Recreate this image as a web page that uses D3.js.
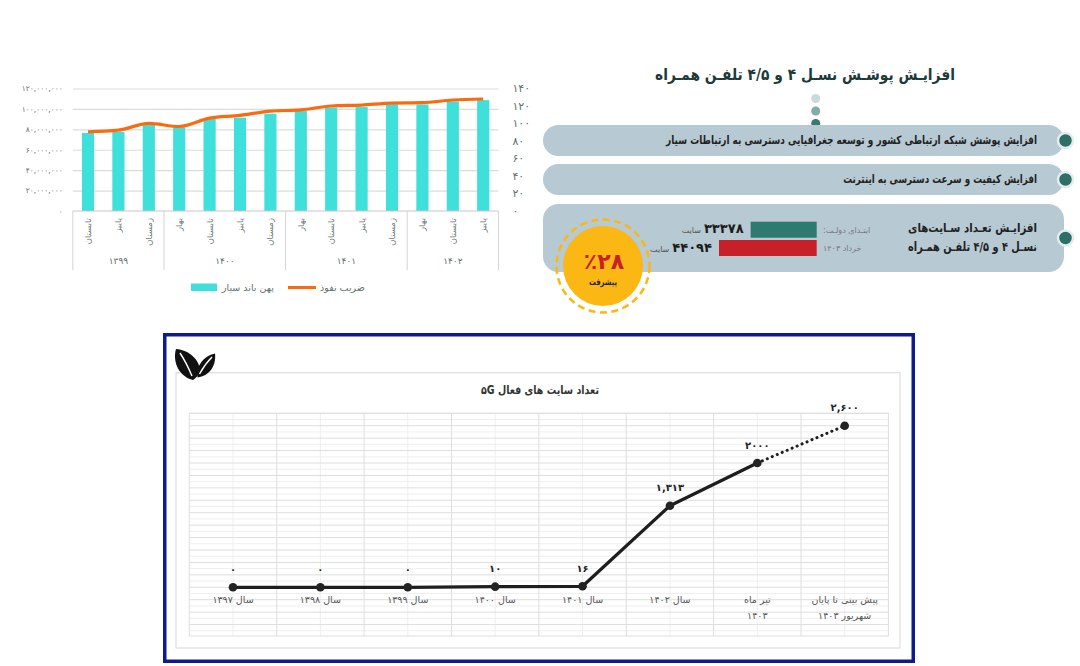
<!DOCTYPE html>
<html>
<head>
<meta charset="utf-8">
<script src="https://cdn.jsdelivr.net/npm/d3@7"></script>
<style>
  body { margin: 0; background: #fff; }
  svg { display: block; font-family: "DejaVu Sans", sans-serif; }
</style>
</head>
<body>
<div id="chart"></div>
<script>
// ---- data: mobile broadband (top left)
const seasons = ['تابستان', 'پاییز', 'زمستان', 'بهار', 'تابستان', 'پاییز', 'زمستان',
  'بهار', 'تابستان', 'پاییز', 'زمستان', 'بهار', 'تابستان', 'پاییز']
const years = ['۱۳۹۹', '۱۴۰۰', '۱۴۰۱', '۱۴۰۲']
const yearSizes = [3, 4, 4, 3]
const broadband = [76.4e6, 77.4e6, 84.2e6, 82e6, 90.4e6, 91.4e6, 95.3e6, 97.9e6,
  101.2e6, 101.8e6, 104.4e6, 104.4e6, 107.3e6, 108.6e6]
const penetration = [90, 91.8, 99.5, 96, 105.6, 108.7, 113.6, 115, 119.4, 120.5, 122.8, 123.2, 126.3, 127.4]
const leftTicks = [0, 20e6, 40e6, 60e6, 80e6, 100e6, 120e6]
const rightTicks = [0, 20, 40, 60, 80, 100, 120, 140]
const legendNames = ['پهن باند سیار', 'ضریب نفوذ']

// ---- data: 4G / 4.5G infographic (top right)
const infoTitle = 'افزایـش پوشـش نسـل ۴ و ۴/۵ تلفـن همـراه'
const pillTexts = [
  ['افزایش پوشش شبکه ارتباطی کشور و توسعه جغرافیایی دسترسی به ارتباطات سیار'],
  ['افزایش کیفیت و سرعت دسترسی به اینترنت'],
  ['افزایـش تعـداد سـایت‌های', 'نسـل ۴ و ۴/۵ تلفـن همـراه']
]
const pillTextWidths = [[371], [194], [129, 129]]
const siteDates = ['ابتـدای دولـت:\u200F', 'خرداد ۱۴۰۳']
const siteCounts = [33378, 44094]
const siteCountLabels = ['۳۳۳۷۸', '۴۴۰۹۴']
const growthLabel = '٪۲۸'

// ---- data: 5G sites (bottom)
const cats5g = [['سال ۱۳۹۷'], ['سال ۱۳۹۸'], ['سال ۱۳۹۹'], ['سال ۱۴۰۰'], ['سال ۱۴۰۱'],
  ['سال ۱۴۰۲'], ['تیر ماه', '۱۴۰۳'], ['پیش بینی تا پایان', 'شهریور ۱۴۰۳']]
const sites5g = [0, 0, 0, 10, 16, 1313, 2000, 2600]
const sites5gLabels = ['۰', '۰', '۰', '۱۰', '۱۶', '۱,۳۱۳', '۲۰۰۰', '۲,۶۰۰']

const fa = s => String(s).replace(/\d/g, d => '۰۱۲۳۴۵۶۷۸۹'[d])

const svg = d3.select('#chart').append('svg')
  .attr('width', 1080)
  .attr('height', 666)

// squeeze a text horizontally so it spans `width` px (DejaVu is wider than the original face)
function fitText(parent, x, y, str, width, anchor, attrs) {
  const g = parent.append('g')
  const t = g.append('text')
    .attr('text-anchor', anchor)
    .attr('dominant-baseline', 'central')
    .text(str)
  Object.entries(attrs).forEach(([k, v]) => t.attr(k, v))
  const s = width / t.node().getComputedTextLength()
  g.attr('transform', `translate(${x},${y}) scale(${s},1)`)
  return t
}

// ================= chart 1: bars + line
const x1 = d3.scaleBand()
  .domain(d3.range(seasons.length))
  .range([72.8, 498.4])
  .paddingInner(0.6)
  .paddingOuter(0.3)
const yL = d3.scaleLinear().domain([0, 120e6]).range([211, 88.5])
const yR = d3.scaleLinear().domain([0, 140]).range([210.5, 88])

const c1 = svg.append('g')

// grid
c1.append('g')
  .attr('transform', 'translate(72.8,0)')
  .call(d3.axisLeft(yL).tickValues(leftTicks.slice(1)).tickSize(-(498.4 - 72.8)).tickFormat(''))
  .call(g => g.select('.domain').remove())
  .call(g => g.selectAll('line').attr('stroke', '#dcdcdc').attr('stroke-width', 1.2))

// left labels
c1.append('g')
  .attr('transform', 'translate(72.8,0)')
  .call(d3.axisLeft(yL).tickValues(leftTicks).tickSize(0).tickPadding(10)
    .tickFormat(d => fa(d3.format(',')(d))))
  .call(g => g.select('.domain').remove())
  .call(g => g.selectAll('text').attr('font-size', 7.5).attr('fill', '#5f6f6f').attr('font-family', 'DejaVu Sans'))

// right labels
c1.append('g')
  .attr('transform', 'translate(498.4,0)')
  .call(d3.axisRight(yR).tickValues(rightTicks).tickSize(0).tickPadding(14).tickFormat(fa))
  .call(g => g.select('.domain').remove())
  .call(g => g.selectAll('text').attr('font-size', 11).attr('fill', '#5f6f6f').attr('font-family', 'DejaVu Sans'))

c1.selectAll('rect.bar')
  .data(broadband)
  .join('rect')
  .attr('class', 'bar')
  .attr('x', (d, i) => x1(i))
  .attr('width', x1.bandwidth())
  .attr('y', d => yL(d))
  .attr('height', d => yL(0) - yL(d))
  .attr('fill', '#3fe0db')

c1.append('path')
  .datum(penetration)
  .attr('d', d3.line()
    .x((d, i) => x1(i) + x1.bandwidth() / 2)
    .y(d => yR(d))
    .curve(d3.curveMonotoneX))
  .attr('fill', 'none')
  .attr('stroke', '#fa6a0e')
  .attr('stroke-width', 3.2)
  .attr('stroke-linejoin', 'round')

// category axis
c1.append('line')
  .attr('x1', 72.8).attr('x2', 498.4)
  .attr('y1', yL(0)).attr('y2', yL(0))
  .attr('stroke', '#c8c8c8')

const bounds = [0, ...d3.cumsum(yearSizes)]
c1.selectAll('line.sep')
  .data(bounds)
  .join('line')
  .attr('class', 'sep')
  .attr('x1', d => 72.8 + d * x1.step())
  .attr('x2', d => 72.8 + d * x1.step())
  .attr('y1', yL(0)).attr('y2', 270)
  .attr('stroke', '#d4d4d4')

c1.selectAll('text.season')
  .data(seasons)
  .join('text')
  .attr('class', 'season')
  .attr('transform', (d, i) => `translate(${x1(i) + x1.bandwidth() / 2},218) rotate(-90)`)
  .attr('text-anchor', 'end')
  .attr('dominant-baseline', 'central')
  .attr('font-size', 8.5)
  .attr('fill', '#6f7c7c')
  .text(d => d)

c1.selectAll('text.year')
  .data(years)
  .join('text')
  .attr('class', 'year')
  .attr('x', (d, i) => 72.8 + (bounds[i] + bounds[i + 1]) / 2 * x1.step())
  .attr('y', 261)
  .attr('text-anchor', 'middle')
  .attr('dominant-baseline', 'central')
  .attr('font-size', 9)
  .attr('fill', '#5f6f6f')
  .text(d => d)

// legend
const lg = c1.append('g')
lg.append('rect').attr('x', 191).attr('y', 283.5).attr('width', 26).attr('height', 7.5).attr('fill', '#3fe0db')
lg.append('text').attr('x', 222).attr('y', 287.5).attr('dominant-baseline', 'central')
  .attr('font-size', 9.5).attr('fill', '#5f6f6f').text(legendNames[0])
lg.append('line').attr('x1', 288).attr('x2', 316).attr('y1', 287.5).attr('y2', 287.5)
  .attr('stroke', '#fa6a0e').attr('stroke-width', 3)
lg.append('text').attr('x', 320).attr('y', 287.5).attr('dominant-baseline', 'central')
  .attr('font-size', 9.5).attr('fill', '#5f6f6f').text(legendNames[1])

// ================= infographic
const c2 = svg.append('g')
fitText(c2, 805, 75, infoTitle, 300, 'middle',
  { 'font-size': 16, 'font-weight': 'bold', fill: '#1d3a3a' })

c2.selectAll('circle.dot')
  .data(['#c7dbda', '#84aba7', '#3b7870'])
  .join('circle')
  .attr('class', 'dot')
  .attr('cx', 815.7)
  .attr('cy', (d, i) => 98.5 + i * 12.5)
  .attr('r', 4.5)
  .attr('fill', d => d)

const pills = [{ y: 125, h: 31 }, { y: 164, h: 31 }, { y: 204, h: 68 }]
pills.forEach((p, i) => {
  c2.append('rect')
    .attr('x', 543).attr('y', p.y)
    .attr('width', 521).attr('height', p.h)
    .attr('rx', 15.5)
    .attr('fill', '#b7c9d3')
  c2.append('circle')
    .attr('cx', 1065.5).attr('cy', p.y + p.h / 2)
    .attr('r', 7.5)
    .attr('fill', '#2e6e66')
    .attr('stroke', '#e4ecef')
    .attr('stroke-width', 2.5)
  const lines = pillTexts[i]
  lines.forEach((t, j) => {
    fitText(c2, 1037, p.y + p.h / 2 - 0.5 + (j - (lines.length - 1) / 2) * 19.5,
      t, pillTextWidths[i][j], 'end',
      { 'font-size': lines.length > 1 ? 12.5 : 11.5, 'font-weight': 'bold', fill: '#222' })
  })
})

// mini bars
const xs = d3.scaleLinear().domain([11000, 44094]).range([0, 97.7])
const barRight = 816.7
const rowY = [221.7, 240]
siteCounts.forEach((v, i) => {
  c2.append('rect')
    .attr('x', barRight - xs(v)).attr('y', rowY[i])
    .attr('width', xs(v)).attr('height', 16)
    .attr('fill', i === 0 ? '#2f7a70' : '#c62128')
  c2.append('text')
    .attr('x', 823).attr('y', rowY[i] + 8.5)
    .attr('dominant-baseline', 'central')
    .attr('font-size', 8)
    .attr('fill', '#777')
    .text(siteDates[i])
  const num = c2.append('text')
    .attr('x', barRight - xs(v) - 7).attr('y', rowY[i] + 7)
    .attr('text-anchor', 'end')
    .attr('dominant-baseline', 'central')
    .attr('font-size', 13)
    .attr('font-weight', 'bold')
    .attr('fill', '#1b1b1b')
    .text(siteCountLabels[i])
  const nw = num.node().getComputedTextLength()
  c2.append('text')
    .attr('x', barRight - xs(v) - 7 - nw - 3).attr('y', rowY[i] + 9)
    .attr('text-anchor', 'end')
    .attr('dominant-baseline', 'central')
    .attr('font-size', 8)
    .attr('fill', '#555')
    .text('سایت')
})

// growth badge
c2.append('circle').attr('cx', 603).attr('cy', 266).attr('r', 46.5)
  .attr('fill', 'none').attr('stroke', '#fbb714').attr('stroke-width', 2.5)
  .attr('stroke-dasharray', '7 4.5')
c2.append('circle').attr('cx', 603).attr('cy', 266).attr('r', 40).attr('fill', '#fbb714')
c2.append('text').attr('x', 604).attr('y', 261)
  .attr('text-anchor', 'middle').attr('dominant-baseline', 'central')
  .attr('font-size', 22).attr('font-weight', 'bold').attr('fill', '#c62128')
  .text(growthLabel)
fitText(c2, 603, 282, 'پیشرفت', 28, 'middle',
  { 'font-size': 9, 'font-weight': 'bold', fill: '#222' })

// ================= chart 3: 5G sites
const c3 = svg.append('g')
c3.append('rect')
  .attr('x', 164.75).attr('y', 334.75)
  .attr('width', 748.5).attr('height', 326.5)
  .attr('fill', '#fff')
  .attr('stroke', '#0d1b8e')
  .attr('stroke-width', 3.5)
c3.append('rect')
  .attr('x', 176).attr('y', 372.7)
  .attr('width', 724).attr('height', 275.3)
  .attr('fill', 'none')
  .attr('stroke', '#e0e0e0')
  .attr('stroke-width', 1.3)

// logo
const logo = c3.append('g')
logo.append('path')
  .attr('d', 'M193,380 C180,377 172,363 176,349 C189,350 200,360 199.5,370 C199,375 196,378 193,380 Z')
  .attr('fill', '#111')
logo.append('path')
  .attr('d', 'M197.5,377.5 C196,366 203,356 215,353.5 C216.5,366 209,376 197.5,377.5 Z')
  .attr('fill', '#111')
logo.append('path').attr('d', 'M192,376 Q186,362 180,353').attr('stroke', '#fff').attr('stroke-width', 1.4).attr('fill', 'none')
logo.append('path').attr('d', 'M199.5,374 Q205,364 212,357').attr('stroke', '#fff').attr('stroke-width', 1.4).attr('fill', 'none')

fitText(c3, 540, 390, 'تعداد سایت های فعال ۵G', 118, 'middle',
  { 'font-size': 11.5, 'font-weight': 'bold', fill: '#333', direction: 'rtl' })

const x3 = d3.scaleBand().domain(d3.range(cats5g.length)).range([189.3, 888.4])
const y3 = d3.scaleLinear().domain([-800, 2800]).range([637, 413.3])
const plotTop = 413.3, plotBottom = 636

// minor grid
c3.append('g')
  .selectAll('line')
  .data(d3.range(-700, 2800, 200))
  .join('line')
  .attr('x1', 189.3).attr('x2', 888.4)
  .attr('y1', d => y3(d)).attr('y2', d => y3(d))
  .attr('stroke', '#efefef')
c3.append('g')
  .selectAll('line')
  .data(d3.range(cats5g.length))
  .join('line')
  .attr('x1', d => x3(d) + x3.bandwidth() / 2).attr('x2', d => x3(d) + x3.bandwidth() / 2)
  .attr('y1', plotTop).attr('y2', plotBottom)
  .attr('stroke', '#efefef')
// major grid
c3.append('g')
  .selectAll('line')
  .data(d3.range(-600, 2801, 200))
  .join('line')
  .attr('x1', 189.3).attr('x2', 888.4)
  .attr('y1', d => y3(d)).attr('y2', d => y3(d))
  .attr('stroke', '#dedede')
c3.append('g')
  .selectAll('line')
  .data(d3.range(1, cats5g.length))
  .join('line')
  .attr('x1', d => x3(d)).attr('x2', d => x3(d))
  .attr('y1', plotTop).attr('y2', plotBottom)
  .attr('stroke', '#dedede')
c3.append('rect')
  .attr('x', 189.3).attr('y', plotTop)
  .attr('width', 888.4 - 189.3).attr('height', plotBottom - plotTop)
  .attr('fill', 'none').attr('stroke', '#dedede')

const cx3 = i => x3(i) + x3.bandwidth() / 2
const line3 = d3.line().x(d => cx3(d)).y(d => y3(sites5g[d]))
c3.append('path')
  .attr('d', line3(d3.range(0, 7)))
  .attr('fill', 'none')
  .attr('stroke', '#1e1e1e')
  .attr('stroke-width', 3.2)
  .attr('stroke-linejoin', 'round')
c3.append('path')
  .attr('d', line3([6, 7]))
  .attr('fill', 'none')
  .attr('stroke', '#1e1e1e')
  .attr('stroke-width', 3)
  .attr('stroke-linecap', 'round')
  .attr('stroke-dasharray', '0.1 5.3')

c3.selectAll('circle.pt')
  .data(sites5g)
  .join('circle')
  .attr('class', 'pt')
  .attr('cx', (d, i) => cx3(i))
  .attr('cy', d => y3(d))
  .attr('r', 4.3)
  .attr('fill', '#222')

c3.selectAll('text.val')
  .data(sites5gLabels)
  .join('text')
  .attr('class', 'val')
  .attr('x', (d, i) => cx3(i))
  .attr('y', (d, i) => y3(sites5g[i]) - 18)
  .attr('text-anchor', 'middle')
  .attr('dominant-baseline', 'central')
  .attr('font-size', 10)
  .attr('font-weight', 'bold')
  .attr('fill', '#222')
  .text(d => d)

cats5g.forEach((lines, i) => {
  lines.forEach((t, j) => {
    c3.append('text')
      .attr('x', cx3(i))
      .attr('y', 599.5 + j * 16)
      .attr('text-anchor', 'middle')
      .attr('dominant-baseline', 'central')
      .attr('font-size', 9.5)
      .attr('fill', '#555')
      .text(t)
  })
})
</script>
</body>
</html>
